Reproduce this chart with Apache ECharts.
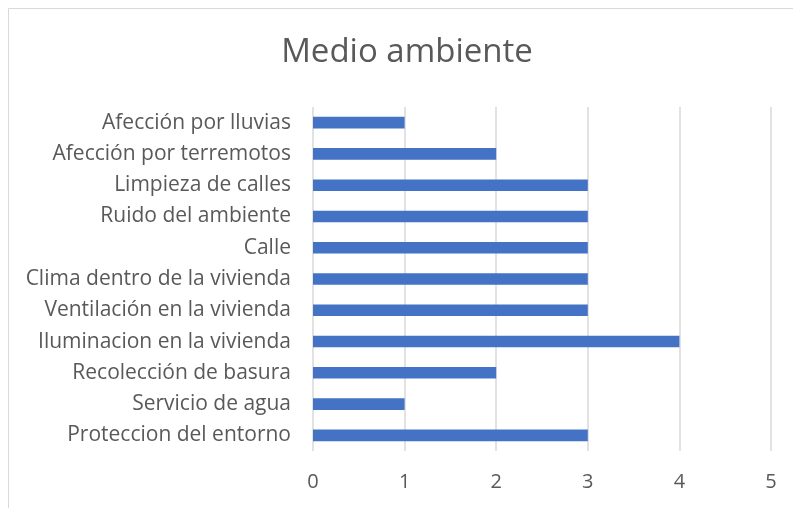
<!DOCTYPE html>
<html>
<head>
<meta charset="utf-8">
<script src="https://cdn.jsdelivr.net/npm/echarts@6/dist/echarts.min.js"></script>
<style>
  html, body { margin: 0; padding: 0; background: #ffffff; }
  #chart { width: 793px; height: 508px; }
</style>
</head>
<body>
<div id="chart"></div>
<script>
// Categories, listed top to bottom
const categories = [
  'Afección por lluvias',
  'Afección por terremotos',
  'Limpieza de calles',
  'Ruido del ambiente',
  'Calle',
  'Clima dentro de la vivienda',
  'Ventilación en la vivienda',
  'Iluminacion en la vivienda',
  'Recolección de basura',
  'Servicio de agua',
  'Proteccion del entorno'
];
const values = [1, 2, 3, 3, 3, 3, 3, 4, 2, 1, 3];
const xTicks = [0, 1, 2, 3, 4, 5];
const titleText = 'Medio ambiente';

const font = '"Open Sans", "Noto Sans", sans-serif';
const chart = echarts.init(document.getElementById('chart'));
chart.setOption({
  animation: false,
  backgroundColor: '#ffffff',
  graphic: [{
    type: 'rect',
    shape: { x: 8.5, y: 8.5, width: 900, height: 600 },
    style: { fill: 'none', stroke: '#d9d9d9', lineWidth: 1 }
  }, {
    type: 'text',
    x: 407,
    y: 53,
    style: {
      text: titleText,
      textAlign: 'center',
      textVerticalAlign: 'middle',
      fontFamily: font,
      fontSize: 33,
      fill: '#595959'
    }
  }],
  grid: { left: 313, right: 22, top: 107, bottom: 57 },
  xAxis: {
    type: 'value',
    min: xTicks[0],
    max: xTicks[xTicks.length - 1],
    interval: 1,
    axisLine: { show: false },
    axisTick: { show: false },
    axisLabel: { fontFamily: font, fontSize: 20, color: '#595959', margin: 21 },
    splitLine: { lineStyle: { color: '#d9d9d9', width: 1.5 } }
  },
  yAxis: {
    type: 'category',
    data: categories,
    inverse: true,
    axisLine: { show: false },
    axisTick: { show: false },
    axisLabel: { fontFamily: font, fontSize: 21, color: '#595959', margin: 22 }
  },
  series: [{
    type: 'bar',
    data: values,
    barWidth: '37%',
    itemStyle: { color: '#4472C4' }
  }]
});
</script>
</body>
</html>
